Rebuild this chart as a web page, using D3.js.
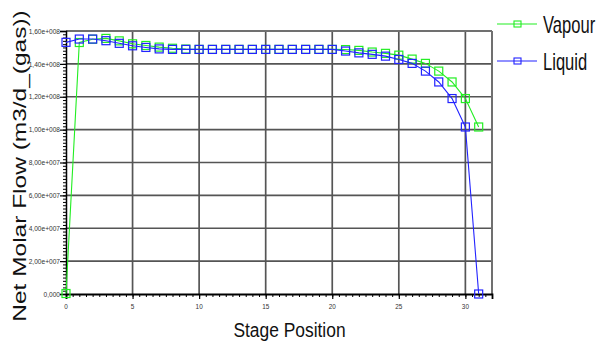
<!DOCTYPE html>
<html>
<head>
<meta charset="utf-8">
<script src="https://cdnjs.cloudflare.com/ajax/libs/d3/7.8.5/d3.min.js"></script>
<style>
  html, body { margin: 0; padding: 0; background: #fff; }
  svg { display: block; }
</style>
</head>
<body>
<svg id="chart" width="598" height="346"></svg>
<script>
// ---- data ----
const stages = d3.range(0, 32);
const vapour = [0.003e8,1.530e8,1.550e8,1.555e8,1.540e8,1.522e8,1.512e8,1.502e8,1.495e8,1.490e8,
  1.488e8,1.488e8,1.488e8,1.488e8,1.488e8,1.488e8,1.488e8,1.488e8,1.488e8,1.488e8,1.488e8,
  1.487e8,1.482e8,1.472e8,1.464e8,1.453e8,1.429e8,1.403e8,1.356e8,1.290e8,1.189e8,1.016e8];
const liquid = [1.531e8,1.551e8,1.551e8,1.541e8,1.525e8,1.510e8,1.500e8,1.491e8,1.488e8,1.488e8,
  1.488e8,1.488e8,1.488e8,1.488e8,1.488e8,1.488e8,1.488e8,1.488e8,1.488e8,1.488e8,1.488e8,
  1.478e8,1.467e8,1.458e8,1.447e8,1.427e8,1.403e8,1.356e8,1.290e8,1.189e8,1.016e8,0];
const seriesNames = ["Vapour", "Liquid"];
const seriesColors = ["#22ee22", "#2222ff"];
const yTicks = [0, 2e7, 4e7, 6e7, 8e7, 1e8, 1.2e8, 1.4e8, 1.6e8];
const yTickLabels = ["0,000","2,00e+007","4,00e+007","6,00e+007","8,00e+007","1,00e+008","1,20e+008","1,40e+008","1,60e+008"];
const xTicks = [0, 5, 10, 15, 20, 25, 30];
const xTickLabels = ["0","5","10","15","20","25","30"];

// ---- layout ----
const L = 66, R = 492, T = 31, B = 294;
const svg = d3.select("#chart");
const x = d3.scaleLinear().domain([0, 32]).range([L, R]);
const y = d3.scaleLinear().domain([0, 1.6e8]).range([B, T]);
const font = "'Liberation Sans', Arial, sans-serif";

// grid lines
svg.append("g").selectAll("line").data(yTicks.filter(v => v > 0 && v < 1.6e8)).join("line")
  .attr("x1", L).attr("x2", R).attr("y1", d => y(d)).attr("y2", d => y(d))
  .attr("stroke", "#555").attr("stroke-width", 1.7);
svg.append("g").selectAll("line").data(xTicks.filter(v => v > 0)).join("line")
  .attr("x1", d => x(d)).attr("x2", d => x(d)).attr("y1", T).attr("y2", B)
  .attr("stroke", "#555").attr("stroke-width", 1.7);

// frame top/right
svg.append("line").attr("x1", L).attr("x2", R).attr("y1", T).attr("y2", T)
  .attr("stroke", "#707070").attr("stroke-width", 2);
svg.append("line").attr("x1", R).attr("x2", R).attr("y1", T).attr("y2", B)
  .attr("stroke", "#707070").attr("stroke-width", 2);

// y axis (ticks via d3 axis, labels drawn condensed)
const yAxis = d3.axisLeft(y).tickValues(yTicks).tickSize(6).tickFormat("");
const gy = svg.append("g").attr("transform", `translate(${L},0)`).call(yAxis);
gy.select(".domain").attr("stroke", "#000").attr("stroke-width", 1.5);
gy.selectAll(".tick line").attr("stroke", "#000").attr("stroke-width", 1.2);
const yMinor = d3.axisLeft(y).tickValues(d3.range(0, 1.6e8 + 1, 2e6)).tickSize(3).tickFormat("");
const gym = svg.append("g").attr("transform", `translate(${L},0)`).call(yMinor);
gym.select(".domain").remove();
gym.selectAll(".tick line").attr("stroke", "#000").attr("stroke-width", 1);
svg.append("g").selectAll("text").data(yTicks).join("text")
  .attr("transform", d => `translate(${L - 6},${y(d) + 2.7}) scale(0.88,1)`)
  .attr("text-anchor", "end").attr("font-family", font).attr("font-size", 7.5).attr("fill", "#333")
  .text((d, i) => yTickLabels[i]);

// x axis
const xAxis = d3.axisBottom(x).tickValues(xTicks).tickSize(5).tickFormat("");
const gx = svg.append("g").attr("transform", `translate(0,${B})`).call(xAxis);
gx.select(".domain").attr("stroke", "#000").attr("stroke-width", 1.8);
gx.selectAll(".tick line").attr("stroke", "#000").attr("stroke-width", 1.2);
const xMinor = d3.axisBottom(x).tickValues(d3.range(0, 32.01, 0.5)).tickSize(3).tickFormat("");
const gxm = svg.append("g").attr("transform", `translate(0,${B})`).call(xMinor);
gxm.select(".domain").remove();
gxm.selectAll(".tick line").attr("stroke", "#000").attr("stroke-width", 1);
svg.append("g").selectAll("text").data(xTicks).join("text")
  .attr("transform", d => `translate(${x(d)},${B + 15}) scale(0.85,1)`)
  .attr("text-anchor", "middle").attr("font-family", font).attr("font-size", 7.5).attr("fill", "#333")
  .text((d, i) => xTickLabels[i]);

// series
const allSeries = [vapour, liquid];
const line = d3.line().x((d, i) => x(stages[i])).y(d => y(d));
allSeries.forEach((vals, k) => {
  const g = svg.append("g");
  g.append("path").datum(vals).attr("d", line).attr("fill", "none")
    .attr("stroke", seriesColors[k]).attr("stroke-width", 1.1);
  g.selectAll("rect").data(vals).join("rect")
    .attr("x", (d, i) => x(stages[i]) - 4).attr("y", d => y(d) - 4)
    .attr("width", 8).attr("height", 8)
    .attr("fill", "none").attr("stroke", seriesColors[k]).attr("stroke-width", 1.2);
});

// legend
const legY = [24, 61];
seriesNames.forEach((name, k) => {
  svg.append("line").attr("x1", 497).attr("x2", 537).attr("y1", legY[k]).attr("y2", legY[k])
    .attr("stroke", seriesColors[k]).attr("stroke-width", 1.2);
  svg.append("rect").attr("x", 514).attr("y", legY[k] - 3).attr("width", 7).attr("height", 6)
    .attr("fill", "none").attr("stroke", seriesColors[k]).attr("stroke-width", 1.1);
  svg.append("text").attr("transform", `translate(543,${legY[k] + 9}) scale(0.72,1)`)
    .attr("font-family", font).attr("font-size", 23).attr("fill", "#111")
    .text(name);
});

// axis titles
svg.append("text").attr("transform", "translate(289.5,337) scale(0.87,1)").attr("text-anchor", "middle")
  .attr("font-family", font).attr("font-size", 20).attr("fill", "#111")
  .text("Stage Position");
svg.append("text").attr("transform", "translate(26,166) rotate(-90) scale(1.4,1)").attr("text-anchor", "middle")
  .attr("font-family", font).attr("font-size", 17.5).attr("fill", "#111")
  .text("Net Molar Flow (m3/d_(gas))");
</script>
</body>
</html>
